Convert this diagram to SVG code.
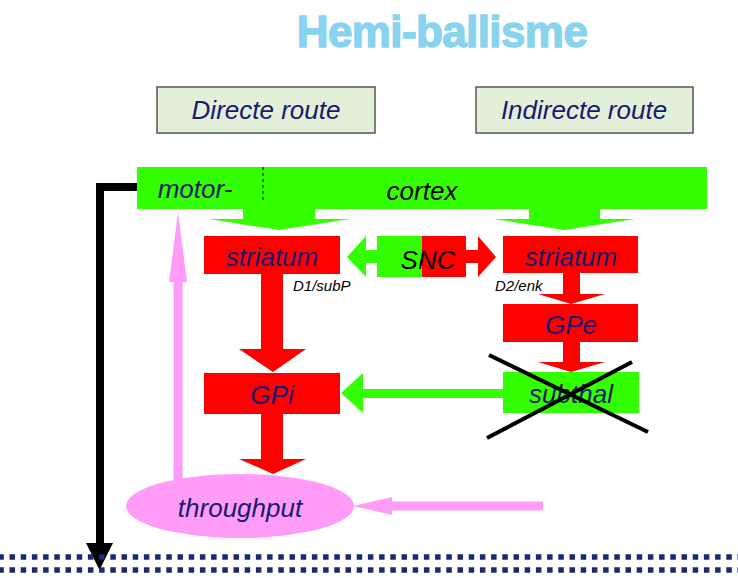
<svg xmlns="http://www.w3.org/2000/svg" width="738" height="578" viewBox="0 0 738 578">
<style>
.t{font-family:"Liberation Sans",Arial,sans-serif;font-style:italic;font-size:26px;text-anchor:middle}
.nv{fill:#1a1a6e}
.bk{fill:#000}
.sm{font-family:"Liberation Sans",Arial,sans-serif;font-style:italic;font-size:15px;fill:#000}
.red{fill:#ff0000}
.grn{fill:#33ff00}
.pink{fill:#ff9cf8}
.box{fill:#e2efd9;stroke:#555;stroke-width:1.5}
.dots{stroke:#1a2a6c;stroke-width:5.5;stroke-dasharray:5.5 5.7;stroke-dashoffset:1.7}
</style>
<rect width="738" height="578" fill="#fff"/>
<text x="442" y="47" font-family="Liberation Sans,Arial,sans-serif" font-weight="bold" font-size="44" fill="#88d3ef" stroke="#88d3ef" stroke-width="1.4" stroke-linejoin="round" text-anchor="middle" letter-spacing="-0.6">Hemi-ballisme</text>

<g id="directe">
<rect class="box" x="157" y="87" width="218" height="46"/>
<text class="t nv" x="266" y="119" font-size="27">Directe route</text>
</g>
<g id="indirecte">
<rect class="box" x="476" y="87" width="217" height="46"/>
<text class="t nv" x="584" y="119" font-size="27">Indirecte route</text>
</g>

<g id="connectors">
<path d="M137 187 H100 V545" fill="none" stroke="#000" stroke-width="8"/>
<polygon points="86,543 113,543 99.5,570" fill="#000"/>
<polygon class="grn" points="243,209 315,209 315,219 350,219 279,230 209,219 243,219"/>
<polygon class="grn" points="529,209 600,209 600,219 635,219 564,230 494,219 529,219"/>
<polygon class="grn" points="377,250 366,250 366,236 347,257 366,277 366,263 377,263"/>
<polygon class="red" points="466,250 478,250 478,236 496,257 478,277 478,263 466,263"/>
<polygon class="red" points="261,274 283,274 283,349 306,349 273,372 239,349 261,349"/>
<polygon class="red" points="261,414 283,414 283,459 306,459 273,474 239,459 261,459"/>
<polygon class="red" points="563,273 580,273 580,294 605,294 571,304 538,294 563,294"/>
<polygon class="red" points="563,342 580,342 580,362 605,362 571,372 538,362 563,362"/>
<polygon class="grn" points="503,389 363,389 363,373 341,393 363,413 363,398 503,398"/>
<rect class="pink" x="173.5" y="278" width="9" height="202"/>
<polygon class="pink" points="169,282 187,282 178,212"/>
<rect class="pink" x="388" y="501.5" width="155" height="9"/>
<polygon class="pink" points="392,497 392,515 353,506"/>
</g>

<g id="cortex">
<rect class="grn" x="137" y="167" width="570" height="42"/>
<line x1="263" y1="167" x2="263" y2="203" stroke="#000" stroke-width="1" stroke-dasharray="3 3"/>
<text class="t nv" x="195" y="198">motor-</text>
<text class="t bk" x="422" y="200">cortex</text>
</g>

<g id="striatum-d">
<rect class="red" x="204" y="236" width="136" height="38"/>
<text class="t nv" x="272" y="266">striatum</text>
<text class="sm" x="293" y="291">D1/subP</text>
</g>

<g id="snc">
<rect class="grn" x="377" y="236" width="46" height="41"/>
<rect class="red" x="422" y="236" width="44" height="41"/>
<text class="t bk" x="428" y="269">SNC</text>
</g>

<g id="striatum-i">
<rect class="red" x="503" y="236" width="135" height="37"/>
<text class="t nv" x="571" y="266">striatum</text>
<text class="sm" x="495" y="291">D2/enk</text>
</g>

<g id="gpe">
<rect class="red" x="503" y="304" width="135" height="38"/>
<text class="t nv" x="571" y="334">GPe</text>
</g>

<g id="gpi">
<rect class="red" x="204" y="373" width="136" height="41"/>
<text class="t nv" x="272" y="404">GPi</text>
</g>

<g id="subthal">
<rect class="grn" x="503" y="372" width="136" height="41"/>
<text class="t nv" x="571" y="403">subthal</text>
</g>

<g id="throughput">
<ellipse class="pink" cx="240" cy="506" rx="114" ry="32"/>
<text class="t nv" x="240" y="517">throughput</text>
</g>

<g id="floor">
<line class="dots" x1="0" y1="557" x2="738" y2="557"/>
<line class="dots" x1="0" y1="570" x2="738" y2="570"/>
</g>
<g id="cross">
<line x1="489" y1="355" x2="648" y2="432" stroke="#000" stroke-width="4"/>
<line x1="487" y1="438" x2="632" y2="362" stroke="#000" stroke-width="4"/>
</g>
</svg>
